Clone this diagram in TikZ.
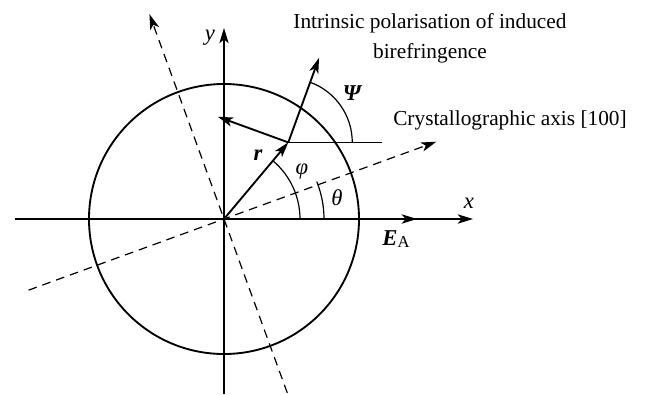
\documentclass[tikz,border=0pt]{standalone}
\usepackage{fontspec}
\setmainfont{Liberation Serif}
\usetikzlibrary{arrows.meta, calc}

\begin{document}
\begin{tikzpicture}[
    x=0.75pt, y=0.75pt,
    axis/.style={
        line width=0.9pt
    },
    axarrow/.style={
        axis,
        -{Stealth[length=11.5pt, width=7pt, inset=3pt]}
    },
    dasharrow/.style={
        axarrow,
        dash pattern=on 6.5pt off 4.5pt
    },
    vec/.style={
        -{Stealth[length=11.5pt, width=7pt, inset=3pt]},
        line width=1.4pt
    },
    angarc/.style={
        line width=0.9pt
    },
    lbl/.style={
        inner sep=0pt,
        font=\fontsize{16}{22.5}\selectfont
    },
    sym/.style={
        lbl,
        font=\fontsize{17}{20}\selectfont
    }
]

\useasboundingbox (-224,-175) rectangle (425,219);

% points
\coordinate (O)     at (0,0);
\coordinate (xl)    at (-209,0);
\coordinate (xr)    at (249,0);
\coordinate (yb)    at (0,-175);
\coordinate (yt)    at (0,191);
\coordinate (EA)    at (193,0);
\coordinate (ca)    at (20:226);
\coordinate (cb)    at (200:208);
\coordinate (pa)    at (110:218);
\coordinate (pb)    at (-70:185);
\coordinate (J)     at (50:100);
\coordinate (Jh)    at ($(J)+(94,0)$);
\coordinate (psi)   at ($(J)+(70:90)$);
\coordinate (perp)  at ($(J)+(160:75)$);

% circle and axes
\draw[line width=1.4pt] (O) circle[radius=135];
\draw[axarrow] (xl) -- (xr);
\draw[axarrow] (yb) -- (yt);
\draw[dasharrow] (cb) -- (ca);
\draw[dasharrow] (pb) -- (pa);

% vectors
\draw[vec] (O) -- (EA);
\draw[vec] (O) -- (J);
\draw[vec] (J) -- (psi);
\draw[vec] (J) -- (perp);
\draw[axis] (J) -- (Jh);

% angles
\draw[angarc] (O) ++(0:76) arc[start angle=0, end angle=50, radius=76];
\draw[angarc] (O) ++(0:100) arc[start angle=0, end angle=22, radius=100];
\draw[angarc] (J) ++(0:64) arc[start angle=0, end angle=70, radius=64];

% labels
\node[sym] (xlab)   at (245,16)   {\itshape x};
\node[sym] (ylab)   at (-14,181)  {\itshape y};
\node[sym] (rlab)   at (34,64)    {\bfseries\itshape r};
\node[sym] (philab) at (78,47)    {\itshape φ};
\node[sym] (thlab)  at (113,21)   {\itshape θ};
\node[sym] (psilab) at (128,126)  {\bfseries\itshape Ψ};
\node[sym] (Elab)   at (172,-20)  {\bfseries\itshape E\normalfont\fontsize{12.5}{14}\selectfont\raisebox{-2pt}{A}};
\node[lbl, align=center] (intrinsic) at (206,181)
    {Intrinsic polarisation of induced\\birefringence};
\node[lbl, anchor=west] (cryst) at (169,99) {Crystallographic axis [100]};

\end{tikzpicture}
\end{document}
